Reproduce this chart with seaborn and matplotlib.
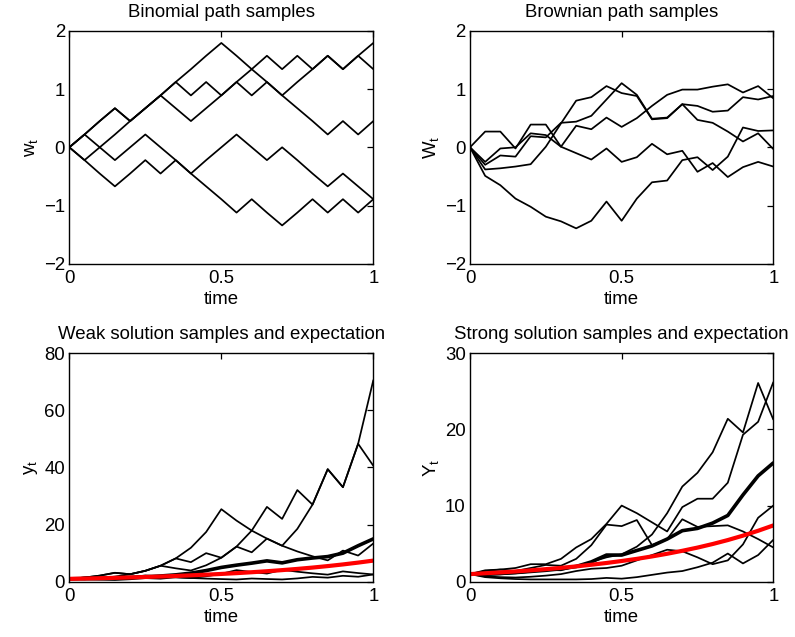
import numpy as np
import pandas as pd
import matplotlib
matplotlib.use("Agg")
import matplotlib.pyplot as plt
import seaborn as sns

# ---------------- data ----------------
time = [0.00, 0.05, 0.10, 0.15, 0.20, 0.25, 0.30, 0.35, 0.40, 0.45, 0.50,
        0.55, 0.60, 0.65, 0.70, 0.75, 0.80, 0.85, 0.90, 0.95, 1.00]

# binomial random walk samples
bin_p1 = [0, 0.22, 0.45, 0.67, 0.45, 0.67, 0.89, 1.12, 1.34, 1.57, 1.79, 1.57, 1.34, 1.12, 0.89, 0.67, 0.45, 0.22, 0.45, 0.22, 0.45]
bin_p2 = [0, 0.22, 0, -0.22, 0, 0.22, 0, -0.22, -0.45, -0.22, 0, 0.22, 0, -0.22, 0, -0.22, -0.45, -0.67, -0.45, -0.67, -0.89]
bin_p3 = [0, -0.22, 0, 0.22, 0.45, 0.67, 0.89, 1.12, 0.89, 1.12, 0.89, 1.12, 1.34, 1.57, 1.34, 1.57, 1.34, 1.57, 1.34, 1.57, 1.79]
bin_p4 = [0, -0.22, -0.45, -0.67, -0.45, -0.22, -0.45, -0.22, -0.45, -0.67, -0.89, -1.12, -0.89, -1.12, -1.34, -1.12, -0.89, -1.12, -0.89, -1.12, -0.89]
bin_p5 = [0, 0.22, 0.45, 0.67, 0.45, 0.67, 0.89, 0.67, 0.45, 0.67, 0.89, 1.12, 0.89, 1.12, 0.89, 1.12, 1.34, 1.57, 1.34, 1.57, 1.34]

# Brownian path samples
bm_d = [0, 0.27, 0.27, -0.02, 0.39, 0.39, 0.01, -0.10, -0.21, -0.02, -0.25, -0.17, 0.06, -0.12, -0.06, -0.42, -0.27, -0.51, -0.34, -0.25, -0.33]
bm_e = [0, -0.49, -0.65, -0.88, -1.02, -1.19, -1.27, -1.39, -1.26, -0.93, -1.26, -0.88, -0.60, -0.57, -0.22, -0.17, -0.39, -0.16, 0.34, 0.28, 0.29]
bm_f = [0, -0.38, -0.36, -0.33, -0.29, 0.01, 0.41, 0.80, 0.86, 1.05, 0.93, 0.88, 0.48, 0.50, 0.74, 0.47, 0.42, 0.27, 0.10, 0.24, -0.03]
bm_g = [0, -0.30, -0.14, -0.16, 0.19, 0.17, 0.42, 0.44, 0.54, 0.82, 1.10, 0.90, 0.49, 0.51, 0.74, 0.71, 0.61, 0.63, 0.86, 0.82, 0.88]
bm_h = [0, -0.25, -0.02, 0.00, 0.24, 0.21, 0.01, 0.37, 0.31, 0.51, 0.35, 0.50, 0.71, 0.90, 0.99, 0.99, 1.04, 1.08, 0.94, 1.05, 0.84]

# weak solution samples
weak_p1 = [1.00, 1.46, 2.13, 3.12, 2.62, 3.82, 5.59, 8.16, 11.9, 17.4, 25.4, 21.4, 17.9, 15.1, 12.6, 10.6, 8.90, 7.47, 10.9, 9.16, 13.4]
weak_p2 = [1.00, 1.46, 1.23, 1.03, 1.50, 2.20, 1.84, 1.55, 1.30, 1.90, 2.77, 4.05, 3.40, 2.85, 4.17, 3.50, 2.94, 2.47, 3.61, 3.03, 2.54]
weak_p3 = [1.00, 0.84, 1.23, 1.79, 2.62, 3.82, 5.59, 8.16, 6.85, 10.0, 8.40, 12.3, 17.9, 26.2, 22.0, 32.1, 27.0, 39.4, 33.1, 48.3, 70.6]
weak_p4 = [1.00, 0.84, 0.70, 0.59, 0.86, 1.26, 1.06, 1.55, 1.30, 1.09, 0.92, 0.77, 1.12, 0.94, 0.79, 1.15, 1.69, 1.42, 2.07, 1.74, 2.54]
weak_p5 = [1.00, 1.46, 2.13, 3.12, 2.62, 3.82, 5.59, 4.69, 3.93, 5.75, 8.40, 12.3, 10.3, 15.1, 12.6, 18.5, 27.0, 39.4, 33.1, 48.3, 40.6]
weak_mean = [1.00, 1.10, 1.20, 1.35, 1.50, 1.70, 2.00, 2.40, 3.00, 3.90, 5.00, 5.80, 6.50, 7.30, 6.60, 7.70, 8.30, 8.80, 10.0, 12.6, 15.0]

# strong solution samples
strong_a = [1.00, 0.85, 0.95, 1.10, 1.30, 1.55, 1.50, 2.00, 2.60, 3.20, 3.60, 4.60, 6.20, 9.00, 12.5, 14.3, 17.0, 21.4, 19.6, 26.1, 21.3]
strong_b = [1.00, 1.40, 1.60, 1.80, 2.30, 2.30, 3.00, 4.50, 5.60, 7.60, 10.0, 9.00, 7.80, 6.60, 9.80, 10.9, 10.9, 13.0, 19.3, 21.0, 26.2]
strong_c = [1.00, 1.50, 1.60, 1.40, 1.80, 2.20, 2.10, 3.00, 4.80, 7.50, 7.30, 8.10, 4.80, 5.60, 8.20, 7.20, 7.30, 7.40, 6.60, 5.60, 4.50]
strong_d = [1.00, 0.70, 0.60, 0.55, 0.65, 0.80, 1.00, 1.40, 1.70, 1.80, 2.10, 2.80, 3.50, 4.20, 4.00, 3.20, 2.30, 2.80, 4.90, 8.40, 10.0]
strong_e = [1.00, 0.60, 0.45, 0.35, 0.30, 0.30, 0.30, 0.30, 0.35, 0.50, 0.40, 0.60, 0.90, 1.20, 1.40, 1.90, 2.50, 3.70, 2.40, 3.50, 5.50]
strong_mean = [1.00, 1.05, 1.10, 1.20, 1.35, 1.50, 1.70, 2.00, 2.60, 3.50, 3.50, 4.10, 4.70, 5.60, 6.70, 7.00, 7.70, 8.70, 11.4, 13.9, 15.6]

# expectation exp(2t)
expectation = [1.00, 1.11, 1.22, 1.35, 1.49, 1.65, 1.82, 2.01, 2.23, 2.46, 2.72, 3.00, 3.32, 3.67, 4.06, 4.48, 4.95, 5.47, 6.05, 6.69, 7.39]

titles = ["Binomial path samples", "Brownian path samples",
          "Weak solution samples and expectation", "Strong solution samples and expectation"]
ylabels = [r"w$_\mathrm{t}$", r"W$_\mathrm{t}$", r"y$_\mathrm{t}$", r"Y$_\mathrm{t}$"]
xticks = [0, 0.5, 1]
xticklabels = ["0", "0.5", "1"]
yticks = [[-2, -1, 0, 1, 2], [-2, -1, 0, 1, 2], [0, 20, 40, 60, 80], [0, 10, 20, 30]]
ylims = [(-2, 2), (-2, 2), (0, 80), (0, 30)]


def long_df(series):
    rows = []
    for k, s in enumerate(series):
        rows.append(pd.DataFrame({"time": time, "value": s, "path": k}))
    return pd.concat(rows, ignore_index=True)


def fmt(v):
    return ("\u2212" + str(-v)) if v < 0 else str(v)


# ---------------- style ----------------
sns.set_style("white")
plt.rcParams["font.family"] = ["Liberation Sans", "DejaVu Sans"]
plt.rcParams["mathtext.fontset"] = "custom"
plt.rcParams["mathtext.rm"] = "Liberation Sans"
plt.rcParams["mathtext.it"] = "Liberation Sans"
plt.rcParams["text.color"] = "black"
plt.rcParams["axes.labelcolor"] = "black"
plt.rcParams["axes.titlecolor"] = "black"
plt.rcParams["xtick.color"] = "black"
plt.rcParams["ytick.color"] = "black"
FS = 13.4

fig = plt.figure(figsize=(7.95, 6.37), dpi=100)
positions = [[0.0872, 0.5857, 0.3824, 0.3661],
             [0.5912, 0.5857, 0.3815, 0.3661],
             [0.0872, 0.0868, 0.3824, 0.3586],
             [0.5912, 0.0868, 0.3815, 0.3586]]
axes = [fig.add_axes(p) for p in positions]

thin = 1.25
panels = [
    [bin_p1, bin_p2, bin_p3, bin_p4, bin_p5],
    [bm_d, bm_e, bm_f, bm_g, bm_h],
    [weak_p1, weak_p2, weak_p3, weak_p4, weak_p5],
    [strong_a, strong_b, strong_c, strong_d, strong_e],
]
means = [None, None, weak_mean, strong_mean]

for idx, ax in enumerate(axes):
    sns.lineplot(data=long_df(panels[idx]), x="time", y="value", units="path",
                 estimator=None, color="black", linewidth=thin, ax=ax,
                 legend=False, sort=False)
    if means[idx] is not None:
        sns.lineplot(x=time, y=means[idx], color="black", linewidth=2.6, ax=ax,
                     legend=False, estimator=None)
        sns.lineplot(x=time, y=expectation, color="#ff0000", linewidth=3.0, ax=ax,
                     legend=False, estimator=None)
    ax.set_xlim(0, 1)
    ax.set_ylim(*ylims[idx])
    ax.set_xticks(xticks)
    ax.set_xticklabels(xticklabels)
    ax.set_yticks(yticks[idx])
    ax.set_yticklabels([fmt(v) for v in yticks[idx]])
    ax.tick_params(direction="in", top=True, right=True, length=4.5, width=0.9,
                   labelsize=FS, pad=3, colors="black")
    ax.tick_params(axis="x", pad=4.5)
    for sp in ax.spines.values():
        sp.set_linewidth(1.0)
        sp.set_color("black")
    ax.set_title(titles[idx], fontsize=FS, pad=10, color="black")
    ax.set_xlabel("time", fontsize=FS, labelpad=3, color="black")
    ax.set_ylabel(ylabels[idx], fontsize=FS, labelpad=3, color="black")

fig.savefig("out.png", dpi=100, facecolor="white")
